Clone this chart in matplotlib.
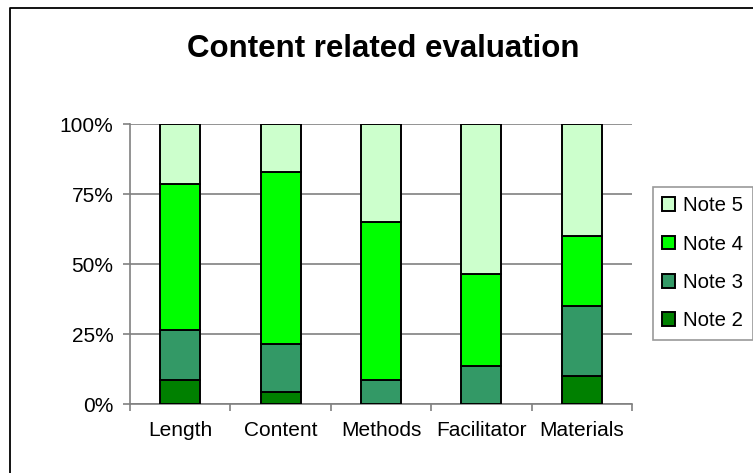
import numpy as np
import matplotlib
matplotlib.use("Agg")
import matplotlib.pyplot as plt
from matplotlib.lines import Line2D

plt.rcParams['font.family'] = ['Liberation Sans', 'DejaVu Sans']

# data (percent of answers)
categories = ["Length", "Content", "Methods", "Facilitator", "Materials"]
note2 = [8.6, 4.3, 0.0, 0.0, 10.0]
note3 = [17.8, 17.1, 8.6, 13.6, 25.0]
note4 = [52.2, 61.5, 56.4, 32.8, 25.0]
note5 = [21.4, 17.1, 35.0, 53.6, 40.0]
yticks = [0, 25, 50, 75, 100]

series = [("Note 2", note2, "#008000"),
          ("Note 3", note3, "#339966"),
          ("Note 4", note4, "#00FF00"),
          ("Note 5", note5, "#CCFFCC")]

W, H = 753, 473
fig = plt.figure(figsize=(W/100, H/100), dpi=100)
ax = fig.add_axes([130/W, 1-404/H, 502/W, 280/H])

x = np.arange(len(categories))
bottom = np.zeros(len(categories))
bars = {}
for name, vals, col in series:
    bars[name] = ax.bar(x, vals, 0.4, bottom=bottom, color=col,
                        edgecolor="black", linewidth=1.4, zorder=3)
    bottom = bottom + np.array(vals)

ax.set_xlim(-0.5, len(categories) - 0.5)
ax.set_ylim(0, 100)
ax.set_yticks(yticks)
ax.set_yticklabels([f"{v}%" for v in yticks])
ax.yaxis.grid(True, color="#808080", linewidth=1.2, zorder=0)
ax.set_axisbelow(True)

ax.set_xticks(x)
ax.set_xticklabels(categories)
ax.set_xticks(np.arange(-0.5, len(categories)), minor=True)
ax.tick_params(axis="x", which="major", length=0, pad=12, labelsize=15)
ax.tick_params(axis="x", which="minor", length=5, color="#808080", width=1.2)
ax.tick_params(axis="y", length=5, color="#808080", width=1.2, labelsize=15, pad=7)

for s in ["top", "right"]:
    ax.spines[s].set_visible(False)
for s in ["left", "bottom"]:
    ax.spines[s].set_color("#808080")
    ax.spines[s].set_linewidth(1.2)

fig.text(383/W, 1-57/H, "Content related evaluation", ha="center", va="baseline",
         fontsize=22.5, fontweight="bold")

handles = [bars[n][0] for n in ["Note 5", "Note 4", "Note 3", "Note 2"]]
leg = fig.legend(handles, ["Note 5", "Note 4", "Note 3", "Note 2"],
                 loc="upper left", bbox_to_anchor=(653/W, 1-187/H),
                 fontsize=14.7, frameon=True, fancybox=False, borderpad=0.45,
                 handlelength=0.64, handleheight=0.64, handletextpad=0.4,
                 labelspacing=0.95, borderaxespad=0)
leg.get_frame().set_edgecolor("#808080")
leg.get_frame().set_linewidth(1.2)

# chart border: only top and left edges are inside the picture
fig.lines.append(Line2D([10/W, 10/W, 1], [0, 1-8/H, 1-8/H], transform=fig.transFigure,
                        color="black", linewidth=1.3))

fig.savefig("out.png", dpi=100)
